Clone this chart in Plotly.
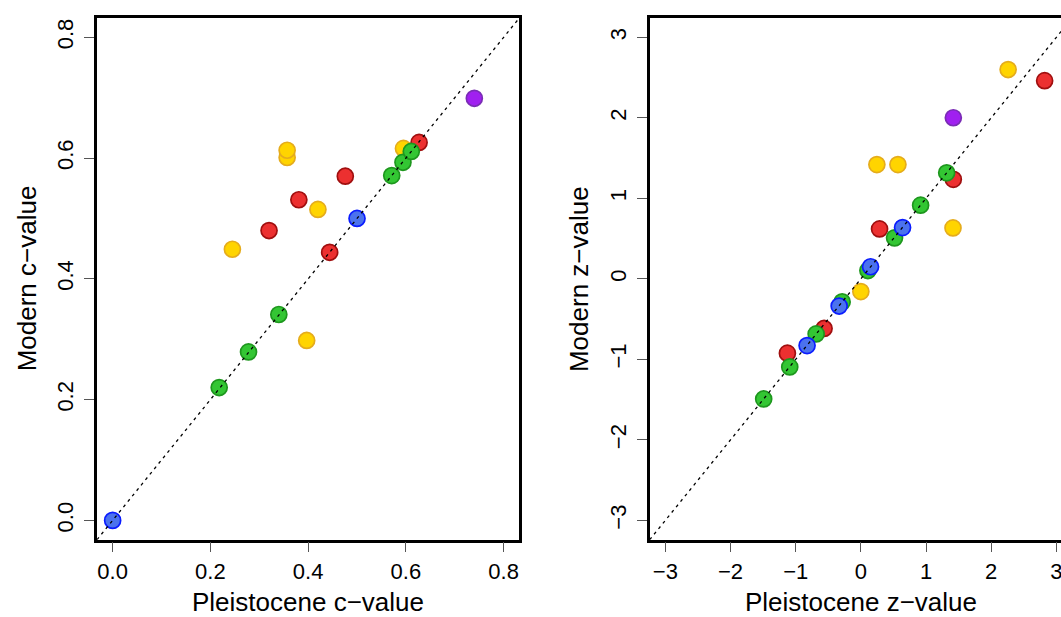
import plotly.graph_objects as go

# ---- data: c-values (left panel) ----
red_c_x = [0.320, 0.444, 0.381, 0.476, 0.627]
red_c_y = [0.480, 0.444, 0.531, 0.570, 0.626]
yellow_c_x = [0.245, 0.397, 0.420, 0.357, 0.357, 0.595]
yellow_c_y = [0.449, 0.298, 0.515, 0.601, 0.613, 0.616]
green_c_x = [0.218, 0.278, 0.340, 0.571, 0.594, 0.611]
green_c_y = [0.220, 0.279, 0.341, 0.571, 0.593, 0.611]
blue_c_x = [0.0, 0.500]
blue_c_y = [0.0, 0.500]
purple_c_x = [0.740]
purple_c_y = [0.699]

# ---- data: z-values (right panel) ----
red_z_x = [-1.127, -0.564, 0.287, 1.419, 2.820]
red_z_y = [-0.923, -0.616, 0.620, 1.236, 2.462]
yellow_z_x = [0.000, 0.246, 0.569, 1.414, 2.260]
yellow_z_y = [-0.158, 1.419, 1.419, 0.633, 2.600]
green_z_x = [-1.491, -1.091, -0.686, -0.287, 0.108, 0.517, 0.917, 1.317]
green_z_y = [-1.492, -1.094, -0.684, -0.286, 0.103, 0.509, 0.915, 1.317]
blue_z_x = [-0.825, -0.333, 0.149, 0.640]
blue_z_y = [-0.829, -0.338, 0.150, 0.637]
purple_z_x = [1.419]
purple_z_y = [2.001]

c_ticks = [0.0, 0.2, 0.4, 0.6, 0.8]
c_tick_labels = ["0.0", "0.2", "0.4", "0.6", "0.8"]
z_ticks = [-3, -2, -1, 0, 1, 2, 3]
z_tick_labels = ["\u22123", "\u22122", "\u22121", "0", "1", "2", "3"]

# ---- styling ----
W, H = 1061, 617
FONT = "Liberation Sans, Arial, Helvetica, sans-serif"
styles = {
    "red": ("#EC3030", "#A00F0F"),
    "yellow": ("#FFD400", "#E5AC1C"),
    "green": ("#33C633", "#1E971E"),
    "blue": ("#4B72EE", "#0A1CFF"),
    "purple": ("#A020F0", "#7A2DB5"),
}

# plot regions in pixels
top_px, bot_px = 18.0, 539.7
left_x0, left_x1 = 97.0, 519.3
panel_w = left_x1 - left_x0
right_x0 = 649.7

c_lim = [0.0, 0.8]
z_lim = [-3.0, 3.0]


def extend(lim):
    d = (lim[1] - lim[0]) * 0.04
    return [lim[0] - d, lim[1] + d]


c_range = extend(c_lim)
z_range = extend(z_lim)
# right panel runs past the page edge: only the visible part of its range
z_scale = panel_w / (z_range[1] - z_range[0])
z_range_x = [z_range[0], z_range[0] + (W - right_x0) / z_scale]

fig = go.Figure()


def add_points(xs, ys, key, xa, ya):
    fill, edge = styles[key]
    fig.add_trace(go.Scatter(
        x=xs, y=ys, mode="markers", xaxis=xa, yaxis=ya,
        marker=dict(size=16, color=fill, line=dict(color=edge, width=1.7)),
        showlegend=False, hoverinfo="skip",
    ))


for key, xs, ys in [("red", red_c_x, red_c_y), ("yellow", yellow_c_x, yellow_c_y),
                    ("green", green_c_x, green_c_y), ("blue", blue_c_x, blue_c_y),
                    ("purple", purple_c_x, purple_c_y)]:
    add_points(xs, ys, key, "x", "y")

for key, xs, ys in [("red", red_z_x, red_z_y), ("yellow", yellow_z_x, yellow_z_y),
                    ("green", green_z_x, green_z_y), ("blue", blue_z_x, blue_z_y),
                    ("purple", purple_z_x, purple_z_y)]:
    add_points(xs, ys, key, "x2", "y2")

# 1:1 reference lines across each panel
for rng, xa, ya in [(c_range, "x", "y"), (z_range, "x2", "y2")]:
    fig.add_trace(go.Scatter(
        x=rng, y=rng, mode="lines", xaxis=xa, yaxis=ya,
        line=dict(color="black", width=1.3, dash="3px,4px"),
        showlegend=False, hoverinfo="skip",
    ))

axis_common = dict(
    showgrid=False, zeroline=False, showline=True, linecolor="black", linewidth=2.5,
    ticks="outside", ticklen=10, tickwidth=1, tickcolor="#555555",
    tickfont=dict(family=FONT, size=22, color="black"), automargin=False,
    ticklabeloverflow="allow",
)

y_dom = [1 - bot_px / H, 1 - top_px / H]
fig.update_layout(
    width=W, height=H, autosize=False,
    margin=dict(l=0, r=0, t=0, b=0),
    paper_bgcolor="white", plot_bgcolor="white",
    xaxis=dict(domain=[left_x0 / W, left_x1 / W], range=c_range, tickvals=c_ticks,
               ticktext=c_tick_labels, mirror=True, ticklabelstandoff=0, **axis_common),
    yaxis=dict(domain=y_dom, range=c_range, tickvals=c_ticks, ticktext=c_tick_labels,
               mirror=True, tickangle=-90, ticklabelstandoff=2, **axis_common),
    xaxis2=dict(domain=[right_x0 / W, 1.0], range=z_range_x, tickvals=z_ticks,
                ticktext=z_tick_labels, mirror=True, anchor="y2", ticklabelstandoff=0,
                **axis_common),
    yaxis2=dict(domain=y_dom, range=z_range, tickvals=z_ticks, ticktext=z_tick_labels,
                mirror=False, anchor="x2", tickangle=-90, ticklabelstandoff=2,
                **axis_common),
)

title_font = dict(family=FONT, size=26, color="black")
y_mid = 1 - (top_px + bot_px) / 2 / H
x_title_y = 1 - 602 / H
for x0, xt, yt in [(left_x0, "Pleistocene c\u2212value", "Modern c\u2212value"),
                   (right_x0, "Pleistocene z\u2212value", "Modern z\u2212value")]:
    fig.add_annotation(text=xt, xref="paper", yref="paper", x=(x0 + panel_w / 2) / W,
                       y=x_title_y, xanchor="center", yanchor="middle", showarrow=False,
                       font=title_font)
    fig.add_annotation(text=yt, xref="paper", yref="paper", x=(x0 - 70.5) / W,
                       y=y_mid, xanchor="center", yanchor="middle", showarrow=False,
                       textangle=-90, font=title_font)

fig.write_html("out.html", config={"displayModeBar": False})
